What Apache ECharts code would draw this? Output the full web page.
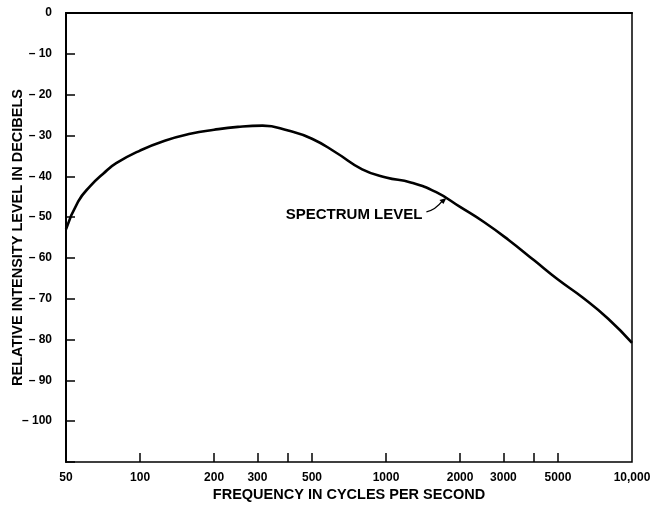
<!doctype html>
<html lang="en">
<head>
    <meta charset="UTF-8">
    <title>Spectrum level</title>
    <script type="text/javascript" src="https://cdn.jsdelivr.net/npm/echarts@6/dist/echarts.min.js"></script>
    <style>
        html, body { margin: 0; padding: 0; background: #fff; }
        #chart { width: 650px; height: 508px; }
    </style>
</head>
<body>
<div id="chart"></div>
<script>
    // curve: frequency (Hz) / relative level (dB)
    var freqs  = [50, 56, 63, 71, 80, 100, 126, 160, 200, 250, 315, 400, 500, 630, 800, 1000,
                  1260, 1600, 2000, 2500, 3150, 4000, 5000, 6300, 8000, 10000];
    var levels = [-53, -46.2, -42.3, -39.3, -36.8, -33.7, -31.3, -29.6, -28.6, -27.9, -27.6, -28.8, -30.8, -34.3, -38.3, -40.3,
                  -41.5, -43.9, -47.5, -51.2, -55.6, -60.6, -65.3, -69.7, -74.9, -80.8];
    var xLabelValues = [50, 100, 200, 300, 500, 1000, 2000, 3000, 5000, 10000];
    var xTickValues = [100, 200, 300, 400, 500, 1000, 2000, 3000, 4000, 5000];
    var annotation = 'SPECTRUM LEVEL';
    var arrowAt = [1760, -45.3];

    var font = '"Liberation Sans", Arial, sans-serif';
    var chart = echarts.init(document.getElementById('chart'));

    var points = [];
    for (var i = 0; i < freqs.length; i++) points.push([freqs[i], levels[i]]);

    // short upward tick marks on the frequency axis
    var tickLines = xTickValues.map(function (v) {
        return [{coord: [v, -110]}, {coord: [v, -107.8]}];
    });

    chart.setOption({
        animation: false,
        grid: {left: 66, right: 18, top: 13, bottom: 46, outerBoundsMode: 'none',
               show: true, borderColor: '#000', borderWidth: 1.5},
        xAxis: {
            type: 'log', logBase: 10, min: 50, max: 10000,
            name: 'FREQUENCY IN CYCLES PER SECOND', nameLocation: 'middle', nameGap: 25, nameMoveOverlap: false,
            nameTextStyle: {fontFamily: font, fontWeight: 'bold', fontSize: 14.5, color: '#000'},
            axisLine: {lineStyle: {color: '#000', width: 2}},
            axisTick: {show: false},
            axisLabel: {
                customValues: xLabelValues, margin: 10,
                fontFamily: font, fontWeight: 'bold', fontSize: 12, color: '#000',
                formatter: function (v) { return v === 10000 ? '10,000' : String(v); }
            },
            splitLine: {show: false}, minorTick: {show: false}
        },
        yAxis: {
            type: 'value', min: -110, max: 0, interval: 10,
            name: 'RELATIVE INTENSITY LEVEL IN DECIBELS', nameLocation: 'middle', nameGap: 41, nameMoveOverlap: false,
            nameTextStyle: {fontFamily: font, fontWeight: 'bold', fontSize: 14.5, color: '#000'},
            axisLine: {lineStyle: {color: '#000', width: 2}},
            axisTick: {inside: true, length: 9, lineStyle: {color: '#000', width: 1.5}},
            axisLabel: {
                margin: 14, fontFamily: font, fontWeight: 'bold', fontSize: 12, color: '#000',
                formatter: function (v) {
                    if (v === 0) return '0';
                    if (v <= -110) return '';
                    return '\u2013 ' + Math.abs(v);
                }
            },
            splitLine: {show: false}
        },
        series: [{
            type: 'line', data: points, smooth: 0.5, showSymbol: false,
            lineStyle: {color: '#000', width: 2.6},
            markLine: {
                silent: true, symbol: 'none', label: {show: false},
                lineStyle: {color: '#000', width: 1.5, type: 'solid'},
                data: tickLines
            }
        }]
    });

    // annotation with little curved arrow
    var tip = chart.convertToPixel({gridIndex: 0}, arrowAt);
    var tx = tip[0], ty = tip[1];
    chart.setOption({
        graphic: [
            {type: 'text', x: tx - 24, y: ty + 17,
             style: {text: annotation, font: 'bold 15px ' + font, fill: '#000',
                     align: 'right', verticalAlign: 'middle'}},
            {type: 'bezierCurve',
             shape: {x1: tx - 20, y1: ty + 14, x2: tx - 4, y2: ty + 3, cpx1: tx - 11, cpy1: ty + 12},
             style: {stroke: '#000', lineWidth: 1.3, fill: null}},
            {type: 'polygon',
             shape: {points: [[tx, ty], [tx - 7, ty + 2], [tx - 3, ty + 6]]},
             style: {fill: '#000'}}
        ]
    });
</script>
</body>
</html>
